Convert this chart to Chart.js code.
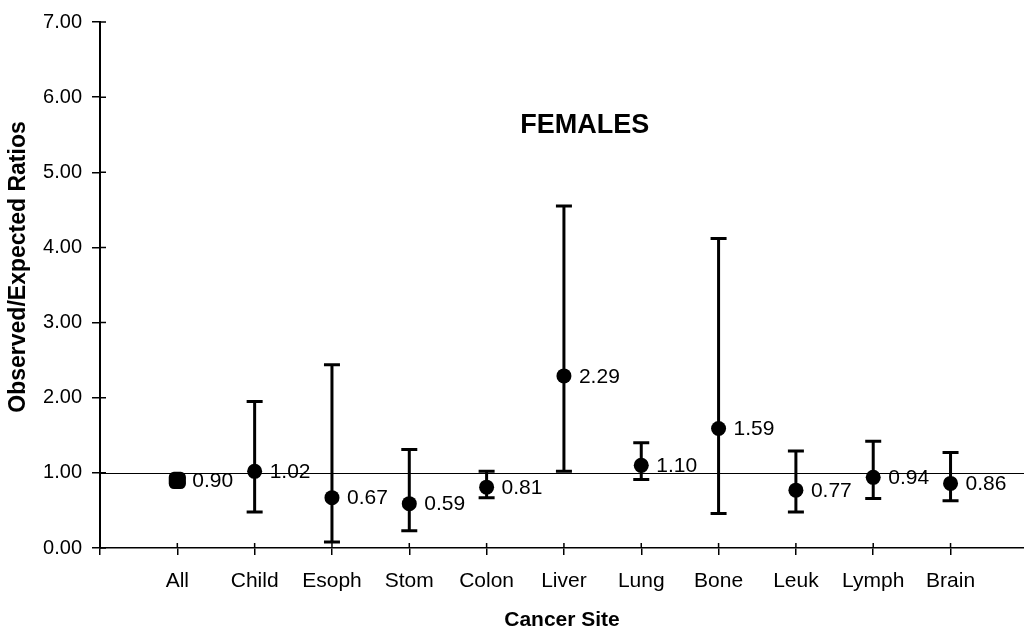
<!DOCTYPE html>
<html>
<head>
<meta charset="utf-8">
<script src="https://cdn.jsdelivr.net/npm/chart.js@4.4.1/dist/chart.umd.min.js"></script>
<style>
  html, body { margin: 0; padding: 0; background: #fff; }
  #wrap { width: 1024px; height: 628px; position: relative; }
</style>
</head>
<body>
<div id="wrap"><canvas id="c"></canvas></div>
<script>
// categorias e razoes observado/esperado (mulheres)
const sites = ["All", "Child", "Esoph", "Stom", "Colon", "Liver", "Lung", "Bone", "Leuk", "Lymph", "Brain"];
const ratios = [0.90, 1.02, 0.67, 0.59, 0.81, 2.29, 1.10, 1.59, 0.77, 0.94, 0.86];
const lowerCI = [0.87, 0.48, 0.08, 0.23, 0.67, 1.02, 0.91, 0.46, 0.48, 0.66, 0.63];
const upperCI = [0.93, 1.95, 2.44, 1.31, 1.02, 4.55, 1.40, 4.12, 1.29, 1.42, 1.27];
const yTicks = [0, 1, 2, 3, 4, 5, 6, 7];
const referenceRatio = 1.0;

const font = "'Liberation Sans', Arial, sans-serif";

// barras de erro, desenhadas antes dos pontos
const errorBars = {
  id: "error-bars",
  beforeDatasetsDraw(chart) {
    const { ctx, scales } = chart;
    ctx.save();
    ctx.strokeStyle = "#000";
    ctx.lineWidth = 3;
    sites.forEach((s, i) => {
      const x = scales.x.getPixelForValue(i);
      const y1 = scales.y.getPixelForValue(lowerCI[i]);
      const y2 = scales.y.getPixelForValue(upperCI[i]);
      ctx.beginPath();
      ctx.moveTo(x, y1);
      ctx.lineTo(x, y2);
      ctx.moveTo(x - 8, y1);
      ctx.lineTo(x + 8, y1);
      ctx.moveTo(x - 8, y2);
      ctx.lineTo(x + 8, y2);
      ctx.stroke();
    });
    ctx.restore();
  },
};

// linha de referencia em 1.00, marcas cruzando os eixos e titulo do eixo y
const refLine = {
  id: "ref-line",
  beforeDatasetsDraw(chart) {
    const { ctx, chartArea, scales } = chart;
    const y = Math.round(scales.y.getPixelForValue(referenceRatio)) + 0.5;
    ctx.save();
    ctx.strokeStyle = "#000";
    ctx.lineWidth = 1.2;
    ctx.beginPath();
    ctx.moveTo(chartArea.left, y);
    ctx.lineTo(chartArea.right, y);
    ctx.stroke();
    // parte de dentro das marcas
    ctx.lineWidth = 1.5;
    ctx.beginPath();
    scales.x.ticks.forEach((t) => {
      const x = scales.x.getPixelForValue(t.value);
      ctx.moveTo(x, chartArea.bottom);
      ctx.lineTo(x, chartArea.bottom - 5);
    });
    scales.y.ticks.forEach((t) => {
      const yy = scales.y.getPixelForValue(t.value);
      ctx.moveTo(chartArea.left, yy);
      ctx.lineTo(chartArea.left + 6, yy);
    });
    ctx.stroke();
    // titulo do eixo y
    ctx.translate(19, scales.y.getPixelForValue(3.74));
    ctx.rotate(-Math.PI / 2);
    ctx.font = "bold 23px " + font;
    ctx.fillStyle = "#000";
    ctx.textAlign = "center";
    ctx.textBaseline = "middle";
    ctx.fillText("Observed/Expected Ratios", 0, 0);
    ctx.restore();
  },
};

// rotulos com o valor ao lado de cada ponto
const valueLabels = {
  id: "value-labels",
  afterDatasetsDraw(chart) {
    const { ctx, scales } = chart;
    ctx.save();
    ctx.font = "21px " + font;
    ctx.fillStyle = "#000";
    ctx.textAlign = "left";
    ctx.textBaseline = "middle";
    ratios.forEach((v, i) => {
      const x = scales.x.getPixelForValue(i);
      const y = scales.y.getPixelForValue(v);
      ctx.fillText(v.toFixed(2), x + 15, y + 1);
    });
    ctx.restore();
  },
};

// titulo no meio do grafico
const centerTitle = {
  id: "center-title",
  afterDraw(chart) {
    const { ctx, scales } = chart;
    ctx.save();
    ctx.font = "bold 27px " + font;
    ctx.fillStyle = "#000";
    ctx.textAlign = "center";
    ctx.textBaseline = "middle";
    ctx.fillText("FEMALES", scales.x.getPixelForValue(5.27), scales.y.getPixelForValue(5.62));
    ctx.restore();
  },
};

new Chart(document.getElementById("c"), {
  type: "scatter",
  data: {
    datasets: [
      {
        data: ratios.map((v, i) => ({ x: i, y: v })),
        backgroundColor: "#000",
        borderColor: "#000",
        pointStyle: sites.map((s, i) => (i === 0 ? "rectRounded" : "circle")),
        pointRadius: sites.map((s, i) => (i === 0 ? 10 : 7.5)),
        pointHoverRadius: 7.5,
        borderWidth: 0,
      },
    ],
  },
  options: {
    responsive: true,
    maintainAspectRatio: false,
    animation: false,
    layout: { autoPadding: false, padding: { top: 17, right: 0, left: 0, bottom: 0 } },
    plugins: {
      legend: { display: false },
      tooltip: { enabled: false },
    },
    scales: {
      x: {
        type: "linear",
        min: -1,
        max: 10.95,
        afterBuildTicks(scale) {
          scale.ticks = sites.map((s, i) => ({ value: i - 1 })).concat([{ value: sites.length - 1 }]);
        },
        afterFit(scale) {
          scale.height = 80;
        },
        grid: {
          drawOnChartArea: false,
          drawTicks: true,
          tickLength: 7,
          color: "#000",
          lineWidth: 1.5,
        },
        border: { display: true, color: "#000", width: 1.5 },
        ticks: {
          color: "#000",
          font: { family: font, size: 21 },
          padding: 14,
          maxRotation: 0,
          autoSkip: false,
          callback: (v) => (v >= 0 ? sites[v] : ""),
        },
        title: {
          display: true,
          text: "Cancer Site",
          color: "#000",
          font: { family: font, size: 21, weight: "bold" },
          padding: { top: 0, bottom: -5 },
        },
      },
      y: {
        min: 0,
        max: 7,
        afterBuildTicks(scale) {
          scale.ticks = yTicks.map((v) => ({ value: v }));
        },
        afterFit(scale) {
          scale.width = 100;
        },
        grid: {
          drawOnChartArea: false,
          drawTicks: true,
          tickLength: 8,
          color: "#000",
          lineWidth: 1.5,
        },
        border: { display: true, color: "#000", width: 2 },
        ticks: {
          color: "#000",
          font: { family: font, size: 20 },
          padding: 10,
          callback: (v) => v.toFixed(2),
        },
      },
    },
  },
  plugins: [refLine, errorBars, valueLabels, centerTitle],
});
</script>
</body>
</html>
